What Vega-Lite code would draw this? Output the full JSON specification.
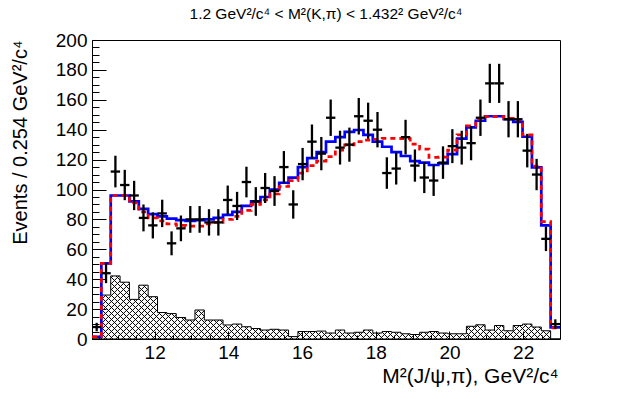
{
  "$schema": "https://vega.github.io/schema/vega-lite/v6.json",
  "width": 468,
  "height": 299,
  "autosize": {"type": "none"},
  "padding": {"left": 92, "top": 40, "right": 63, "bottom": 60},
  "background": "white",
  "config": {
    "view": {"stroke": "black", "strokeWidth": 1},
    "font": "Liberation Sans",
    "axis": {"grid": false, "domain": false, "tickColor": "black", "labelColor": "black", "titleColor": "black", "labelFont": "Liberation Sans", "titleFont": "Liberation Sans", "titleFontWeight": "normal"}
  },
  "title": {"text": "1.2 GeV²/c⁴ < M²(K,π) < 1.432² GeV²/c⁴", "font": "Liberation Sans", "fontSize": 15.5, "fontWeight": "normal", "anchor": "middle", "frame": "group", "offset": 9, "color": "black"},
  "datasets": {
    "steps": [
      {"x": 10.300, "fit": 1.5, "alt": 1.5, "bg": 0},
      {"x": 10.554, "fit": 50.6, "alt": 50.6, "bg": 29.4},
      {"x": 10.808, "fit": 96, "alt": 96, "bg": 42.2},
      {"x": 11.062, "fit": 96, "alt": 96, "bg": 38},
      {"x": 11.316, "fit": 92, "alt": 91, "bg": 26.5},
      {"x": 11.570, "fit": 87, "alt": 85, "bg": 36},
      {"x": 11.824, "fit": 83.5, "alt": 81, "bg": 28.3},
      {"x": 12.078, "fit": 82, "alt": 79, "bg": 17.7},
      {"x": 12.332, "fit": 80.5, "alt": 77, "bg": 17},
      {"x": 12.586, "fit": 79.5, "alt": 76, "bg": 14.4},
      {"x": 12.840, "fit": 79, "alt": 75.5, "bg": 12.7},
      {"x": 13.094, "fit": 79.5, "alt": 75.5, "bg": 19.4},
      {"x": 13.348, "fit": 80, "alt": 77, "bg": 12.7},
      {"x": 13.602, "fit": 81, "alt": 78, "bg": 12.7},
      {"x": 13.856, "fit": 83, "alt": 80, "bg": 9.4},
      {"x": 14.110, "fit": 85, "alt": 82, "bg": 10},
      {"x": 14.364, "fit": 89, "alt": 86, "bg": 8.2},
      {"x": 14.618, "fit": 92, "alt": 90, "bg": 7},
      {"x": 14.872, "fit": 95, "alt": 93, "bg": 6},
      {"x": 15.126, "fit": 100, "alt": 97, "bg": 6.5},
      {"x": 15.380, "fit": 104.5, "alt": 102, "bg": 6},
      {"x": 15.634, "fit": 108, "alt": 106, "bg": 1.6},
      {"x": 15.888, "fit": 115, "alt": 111, "bg": 5},
      {"x": 16.142, "fit": 121, "alt": 116, "bg": 5},
      {"x": 16.396, "fit": 125, "alt": 119, "bg": 5.3},
      {"x": 16.650, "fit": 132, "alt": 122, "bg": 4},
      {"x": 16.904, "fit": 135, "alt": 126.4, "bg": 6},
      {"x": 17.158, "fit": 138.5, "alt": 129.8, "bg": 4},
      {"x": 17.412, "fit": 139.8, "alt": 132, "bg": 4.5},
      {"x": 17.666, "fit": 136.5, "alt": 133, "bg": 6},
      {"x": 17.920, "fit": 132, "alt": 133.6, "bg": 4},
      {"x": 18.174, "fit": 128.6, "alt": 134.2, "bg": 5},
      {"x": 18.428, "fit": 125, "alt": 134.2, "bg": 4.5},
      {"x": 18.682, "fit": 122.4, "alt": 134, "bg": 3.5},
      {"x": 18.936, "fit": 119, "alt": 130.4, "bg": 3},
      {"x": 19.190, "fit": 118, "alt": 127, "bg": 4.5},
      {"x": 19.444, "fit": 116.4, "alt": 121.5, "bg": 5},
      {"x": 19.698, "fit": 117.5, "alt": 121.6, "bg": 4},
      {"x": 19.952, "fit": 123.7, "alt": 126.4, "bg": 3.5},
      {"x": 20.206, "fit": 134, "alt": 136.5, "bg": 3.5},
      {"x": 20.460, "fit": 141.6, "alt": 142.5, "bg": 8.5},
      {"x": 20.714, "fit": 146, "alt": 147, "bg": 9.5},
      {"x": 20.968, "fit": 149, "alt": 148.7, "bg": 6},
      {"x": 21.222, "fit": 149, "alt": 148.7, "bg": 9},
      {"x": 21.476, "fit": 147, "alt": 147.6, "bg": 5.5},
      {"x": 21.730, "fit": 145.3, "alt": 146.5, "bg": 9},
      {"x": 21.984, "fit": 135.3, "alt": 136.5, "bg": 10},
      {"x": 22.238, "fit": 114.8, "alt": 115.7, "bg": 8},
      {"x": 22.492, "fit": 76, "alt": 78.5, "bg": 5.5},
      {"x": 22.746, "fit": 7.8, "alt": 7.5, "bg": 0},
      {"x": 23.000, "fit": 7.8, "alt": 7.5, "bg": 0}
    ],
    "pts": [
      {"m": 10.427, "lo": 10.300, "hi": 10.554, "n": 8, "e": 2.83},
      {"m": 10.681, "lo": 10.554, "hi": 10.808, "n": 44, "e": 6.63},
      {"m": 10.935, "lo": 10.808, "hi": 11.062, "n": 112, "e": 10.58},
      {"m": 11.189, "lo": 11.062, "hi": 11.316, "n": 103, "e": 10.15},
      {"m": 11.443, "lo": 11.316, "hi": 11.570, "n": 96, "e": 9.80},
      {"m": 11.697, "lo": 11.570, "hi": 11.824, "n": 81, "e": 9.00},
      {"m": 11.951, "lo": 11.824, "hi": 12.078, "n": 76, "e": 8.72},
      {"m": 12.205, "lo": 12.078, "hi": 12.332, "n": 84, "e": 9.17},
      {"m": 12.459, "lo": 12.332, "hi": 12.586, "n": 64, "e": 8.00},
      {"m": 12.713, "lo": 12.586, "hi": 12.840, "n": 74, "e": 8.60},
      {"m": 12.967, "lo": 12.840, "hi": 13.094, "n": 80, "e": 8.94},
      {"m": 13.221, "lo": 13.094, "hi": 13.348, "n": 80, "e": 8.94},
      {"m": 13.475, "lo": 13.348, "hi": 13.602, "n": 78, "e": 8.83},
      {"m": 13.729, "lo": 13.602, "hi": 13.856, "n": 78, "e": 8.83},
      {"m": 13.983, "lo": 13.856, "hi": 14.110, "n": 93, "e": 9.64},
      {"m": 14.237, "lo": 14.110, "hi": 14.364, "n": 89, "e": 9.43},
      {"m": 14.491, "lo": 14.364, "hi": 14.618, "n": 105, "e": 10.25},
      {"m": 14.745, "lo": 14.618, "hi": 14.872, "n": 92, "e": 9.59},
      {"m": 14.999, "lo": 14.872, "hi": 15.126, "n": 101, "e": 10.05},
      {"m": 15.253, "lo": 15.126, "hi": 15.380, "n": 99, "e": 9.95},
      {"m": 15.507, "lo": 15.380, "hi": 15.634, "n": 115, "e": 10.72},
      {"m": 15.761, "lo": 15.634, "hi": 15.888, "n": 90, "e": 9.49},
      {"m": 16.015, "lo": 15.888, "hi": 16.142, "n": 117, "e": 10.82},
      {"m": 16.269, "lo": 16.142, "hi": 16.396, "n": 132, "e": 11.49},
      {"m": 16.523, "lo": 16.396, "hi": 16.650, "n": 124, "e": 11.14},
      {"m": 16.777, "lo": 16.650, "hi": 16.904, "n": 148, "e": 12.17},
      {"m": 17.031, "lo": 16.904, "hi": 17.158, "n": 128, "e": 11.31},
      {"m": 17.285, "lo": 17.158, "hi": 17.412, "n": 130, "e": 11.40},
      {"m": 17.539, "lo": 17.412, "hi": 17.666, "n": 149, "e": 12.21},
      {"m": 17.793, "lo": 17.666, "hi": 17.920, "n": 146, "e": 12.08},
      {"m": 18.047, "lo": 17.920, "hi": 18.174, "n": 140, "e": 11.83},
      {"m": 18.301, "lo": 18.174, "hi": 18.428, "n": 111, "e": 10.54},
      {"m": 18.555, "lo": 18.428, "hi": 18.682, "n": 114, "e": 10.68},
      {"m": 18.809, "lo": 18.682, "hi": 18.936, "n": 135, "e": 11.62},
      {"m": 19.063, "lo": 18.936, "hi": 19.190, "n": 116, "e": 10.77},
      {"m": 19.317, "lo": 19.190, "hi": 19.444, "n": 108, "e": 10.39},
      {"m": 19.571, "lo": 19.444, "hi": 19.698, "n": 106, "e": 10.30},
      {"m": 19.825, "lo": 19.698, "hi": 19.952, "n": 118, "e": 10.86},
      {"m": 20.079, "lo": 19.952, "hi": 20.206, "n": 129, "e": 11.36},
      {"m": 20.333, "lo": 20.206, "hi": 20.460, "n": 128, "e": 11.31},
      {"m": 20.587, "lo": 20.460, "hi": 20.714, "n": 131, "e": 11.45},
      {"m": 20.841, "lo": 20.714, "hi": 20.968, "n": 148, "e": 12.17},
      {"m": 21.095, "lo": 20.968, "hi": 21.222, "n": 171, "e": 13.08},
      {"m": 21.349, "lo": 21.222, "hi": 21.476, "n": 171, "e": 13.08},
      {"m": 21.603, "lo": 21.476, "hi": 21.730, "n": 147, "e": 12.12},
      {"m": 21.857, "lo": 21.730, "hi": 21.984, "n": 147, "e": 12.12},
      {"m": 22.111, "lo": 21.984, "hi": 22.238, "n": 126, "e": 11.22},
      {"m": 22.365, "lo": 22.238, "hi": 22.492, "n": 110, "e": 10.49},
      {"m": 22.619, "lo": 22.492, "hi": 22.746, "n": 67, "e": 8.19},
      {"m": 22.873, "lo": 22.746, "hi": 23.000, "n": 10, "e": 3.16}
    ]
  },
  "layer": [
    {
      "data": {"name": "steps"},
      "mark": {"type": "area", "interpolate": "step-after", "strokeWidth": 0, "fillOpacity": 1,
        "fill": {"gradient": "linear", "x1": 0, "y1": 0, "x2": 2.09859, "y2": 0.28295, "stops": [
{"offset":0.002,"color":"transparent"},{"offset":0.003,"color":"#000"},{"offset":0.004,"color":"transparent"},
{"offset":0.008,"color":"transparent"},{"offset":0.009,"color":"#000"},{"offset":0.010,"color":"transparent"},
{"offset":0.014,"color":"transparent"},{"offset":0.015,"color":"#000"},{"offset":0.016,"color":"transparent"},
{"offset":0.020,"color":"transparent"},{"offset":0.021,"color":"#000"},{"offset":0.022,"color":"transparent"},
{"offset":0.026,"color":"transparent"},{"offset":0.027,"color":"#000"},{"offset":0.028,"color":"transparent"},
{"offset":0.032,"color":"transparent"},{"offset":0.033,"color":"#000"},{"offset":0.034,"color":"transparent"},
{"offset":0.038,"color":"transparent"},{"offset":0.039,"color":"#000"},{"offset":0.040,"color":"transparent"},
{"offset":0.044,"color":"transparent"},{"offset":0.045,"color":"#000"},{"offset":0.046,"color":"transparent"},
{"offset":0.050,"color":"transparent"},{"offset":0.051,"color":"#000"},{"offset":0.052,"color":"transparent"},
{"offset":0.056,"color":"transparent"},{"offset":0.057,"color":"#000"},{"offset":0.058,"color":"transparent"},
{"offset":0.062,"color":"transparent"},{"offset":0.063,"color":"#000"},{"offset":0.064,"color":"transparent"},
{"offset":0.068,"color":"transparent"},{"offset":0.069,"color":"#000"},{"offset":0.070,"color":"transparent"},
{"offset":0.074,"color":"transparent"},{"offset":0.075,"color":"#000"},{"offset":0.076,"color":"transparent"},
{"offset":0.080,"color":"transparent"},{"offset":0.081,"color":"#000"},{"offset":0.082,"color":"transparent"},
{"offset":0.086,"color":"transparent"},{"offset":0.087,"color":"#000"},{"offset":0.088,"color":"transparent"},
{"offset":0.092,"color":"transparent"},{"offset":0.093,"color":"#000"},{"offset":0.094,"color":"transparent"},
{"offset":0.098,"color":"transparent"},{"offset":0.099,"color":"#000"},{"offset":0.100,"color":"transparent"},
{"offset":0.104,"color":"transparent"},{"offset":0.105,"color":"#000"},{"offset":0.106,"color":"transparent"},
{"offset":0.110,"color":"transparent"},{"offset":0.111,"color":"#000"},{"offset":0.112,"color":"transparent"},
{"offset":0.116,"color":"transparent"},{"offset":0.117,"color":"#000"},{"offset":0.118,"color":"transparent"},
{"offset":0.122,"color":"transparent"},{"offset":0.123,"color":"#000"},{"offset":0.124,"color":"transparent"},
{"offset":0.128,"color":"transparent"},{"offset":0.129,"color":"#000"},{"offset":0.130,"color":"transparent"},
{"offset":0.134,"color":"transparent"},{"offset":0.135,"color":"#000"},{"offset":0.136,"color":"transparent"},
{"offset":0.140,"color":"transparent"},{"offset":0.141,"color":"#000"},{"offset":0.142,"color":"transparent"},
{"offset":0.146,"color":"transparent"},{"offset":0.147,"color":"#000"},{"offset":0.148,"color":"transparent"},
{"offset":0.152,"color":"transparent"},{"offset":0.153,"color":"#000"},{"offset":0.154,"color":"transparent"},
{"offset":0.158,"color":"transparent"},{"offset":0.159,"color":"#000"},{"offset":0.160,"color":"transparent"},
{"offset":0.164,"color":"transparent"},{"offset":0.165,"color":"#000"},{"offset":0.166,"color":"transparent"},
{"offset":0.170,"color":"transparent"},{"offset":0.171,"color":"#000"},{"offset":0.172,"color":"transparent"},
{"offset":0.176,"color":"transparent"},{"offset":0.177,"color":"#000"},{"offset":0.178,"color":"transparent"},
{"offset":0.182,"color":"transparent"},{"offset":0.183,"color":"#000"},{"offset":0.184,"color":"transparent"},
{"offset":0.188,"color":"transparent"},{"offset":0.189,"color":"#000"},{"offset":0.190,"color":"transparent"},
{"offset":0.194,"color":"transparent"},{"offset":0.195,"color":"#000"},{"offset":0.196,"color":"transparent"},
{"offset":0.200,"color":"transparent"},{"offset":0.201,"color":"#000"},{"offset":0.202,"color":"transparent"},
{"offset":0.206,"color":"transparent"},{"offset":0.207,"color":"#000"},{"offset":0.208,"color":"transparent"},
{"offset":0.212,"color":"transparent"},{"offset":0.213,"color":"#000"},{"offset":0.214,"color":"transparent"},
{"offset":0.218,"color":"transparent"},{"offset":0.219,"color":"#000"},{"offset":0.220,"color":"transparent"},
{"offset":0.224,"color":"transparent"},{"offset":0.225,"color":"#000"},{"offset":0.226,"color":"transparent"},
{"offset":0.230,"color":"transparent"},{"offset":0.231,"color":"#000"},{"offset":0.232,"color":"transparent"},
{"offset":0.236,"color":"transparent"},{"offset":0.237,"color":"#000"},{"offset":0.238,"color":"transparent"},
{"offset":0.242,"color":"transparent"},{"offset":0.243,"color":"#000"},{"offset":0.244,"color":"transparent"},
{"offset":0.248,"color":"transparent"},{"offset":0.249,"color":"#000"},{"offset":0.250,"color":"transparent"},
{"offset":0.254,"color":"transparent"},{"offset":0.255,"color":"#000"},{"offset":0.256,"color":"transparent"},
{"offset":0.260,"color":"transparent"},{"offset":0.261,"color":"#000"},{"offset":0.262,"color":"transparent"},
{"offset":0.266,"color":"transparent"},{"offset":0.267,"color":"#000"},{"offset":0.268,"color":"transparent"},
{"offset":0.272,"color":"transparent"},{"offset":0.273,"color":"#000"},{"offset":0.274,"color":"transparent"},
{"offset":0.278,"color":"transparent"},{"offset":0.279,"color":"#000"},{"offset":0.280,"color":"transparent"},
{"offset":0.284,"color":"transparent"},{"offset":0.285,"color":"#000"},{"offset":0.286,"color":"transparent"},
{"offset":0.290,"color":"transparent"},{"offset":0.291,"color":"#000"},{"offset":0.292,"color":"transparent"},
{"offset":0.296,"color":"transparent"},{"offset":0.297,"color":"#000"},{"offset":0.298,"color":"transparent"},
{"offset":0.302,"color":"transparent"},{"offset":0.303,"color":"#000"},{"offset":0.304,"color":"transparent"},
{"offset":0.308,"color":"transparent"},{"offset":0.309,"color":"#000"},{"offset":0.310,"color":"transparent"},
{"offset":0.314,"color":"transparent"},{"offset":0.315,"color":"#000"},{"offset":0.316,"color":"transparent"},
{"offset":0.320,"color":"transparent"},{"offset":0.321,"color":"#000"},{"offset":0.322,"color":"transparent"},
{"offset":0.326,"color":"transparent"},{"offset":0.327,"color":"#000"},{"offset":0.328,"color":"transparent"},
{"offset":0.332,"color":"transparent"},{"offset":0.333,"color":"#000"},{"offset":0.334,"color":"transparent"},
{"offset":0.338,"color":"transparent"},{"offset":0.339,"color":"#000"},{"offset":0.340,"color":"transparent"},
{"offset":0.344,"color":"transparent"},{"offset":0.345,"color":"#000"},{"offset":0.346,"color":"transparent"},
{"offset":0.350,"color":"transparent"},{"offset":0.351,"color":"#000"},{"offset":0.352,"color":"transparent"},
{"offset":0.356,"color":"transparent"},{"offset":0.357,"color":"#000"},{"offset":0.358,"color":"transparent"},
{"offset":0.362,"color":"transparent"},{"offset":0.363,"color":"#000"},{"offset":0.364,"color":"transparent"},
{"offset":0.368,"color":"transparent"},{"offset":0.369,"color":"#000"},{"offset":0.370,"color":"transparent"},
{"offset":0.374,"color":"transparent"},{"offset":0.375,"color":"#000"},{"offset":0.376,"color":"transparent"},
{"offset":0.380,"color":"transparent"},{"offset":0.381,"color":"#000"},{"offset":0.382,"color":"transparent"},
{"offset":0.386,"color":"transparent"},{"offset":0.387,"color":"#000"},{"offset":0.388,"color":"transparent"},
{"offset":0.392,"color":"transparent"},{"offset":0.393,"color":"#000"},{"offset":0.394,"color":"transparent"},
{"offset":0.398,"color":"transparent"},{"offset":0.399,"color":"#000"},{"offset":0.400,"color":"transparent"},
{"offset":0.404,"color":"transparent"},{"offset":0.405,"color":"#000"},{"offset":0.406,"color":"transparent"},
{"offset":0.410,"color":"transparent"},{"offset":0.411,"color":"#000"},{"offset":0.412,"color":"transparent"},
{"offset":0.416,"color":"transparent"},{"offset":0.417,"color":"#000"},{"offset":0.418,"color":"transparent"},
{"offset":0.422,"color":"transparent"},{"offset":0.423,"color":"#000"},{"offset":0.424,"color":"transparent"},
{"offset":0.428,"color":"transparent"},{"offset":0.429,"color":"#000"},{"offset":0.430,"color":"transparent"},
{"offset":0.434,"color":"transparent"},{"offset":0.435,"color":"#000"},{"offset":0.436,"color":"transparent"},
{"offset":0.440,"color":"transparent"},{"offset":0.441,"color":"#000"},{"offset":0.442,"color":"transparent"},
{"offset":0.446,"color":"transparent"},{"offset":0.447,"color":"#000"},{"offset":0.448,"color":"transparent"},
{"offset":0.452,"color":"transparent"},{"offset":0.453,"color":"#000"},{"offset":0.454,"color":"transparent"},
{"offset":0.458,"color":"transparent"},{"offset":0.459,"color":"#000"},{"offset":0.460,"color":"transparent"},
{"offset":0.464,"color":"transparent"},{"offset":0.465,"color":"#000"},{"offset":0.466,"color":"transparent"},
{"offset":0.470,"color":"transparent"},{"offset":0.471,"color":"#000"},{"offset":0.472,"color":"transparent"},
{"offset":0.476,"color":"transparent"},{"offset":0.477,"color":"#000"},{"offset":0.478,"color":"transparent"},
{"offset":0.482,"color":"transparent"},{"offset":0.483,"color":"#000"},{"offset":0.484,"color":"transparent"},
{"offset":0.488,"color":"transparent"},{"offset":0.489,"color":"#000"},{"offset":0.490,"color":"transparent"},
{"offset":0.494,"color":"transparent"},{"offset":0.495,"color":"#000"},{"offset":0.496,"color":"transparent"},
{"offset":0.500,"color":"transparent"},{"offset":0.501,"color":"#000"},{"offset":0.502,"color":"transparent"},
{"offset":0.506,"color":"transparent"},{"offset":0.507,"color":"#000"},{"offset":0.508,"color":"transparent"},
{"offset":0.512,"color":"transparent"},{"offset":0.513,"color":"#000"},{"offset":0.514,"color":"transparent"},
{"offset":0.518,"color":"transparent"},{"offset":0.519,"color":"#000"},{"offset":0.520,"color":"transparent"},
{"offset":0.524,"color":"transparent"},{"offset":0.525,"color":"#000"},{"offset":0.526,"color":"transparent"},
{"offset":0.530,"color":"transparent"},{"offset":0.531,"color":"#000"},{"offset":0.532,"color":"transparent"}
        ]}},
      "encoding": {
        "x": {"field": "x", "type": "quantitative", "scale": {"domain": [10.3, 23.0], "nice": false, "zero": false},
          "axis": {"orient": "bottom", "values": [12, 14, 16, 18, 20, 22], "tickSize": -8, "labelPadding": 12, "labelFontSize": 19, "labelFlush": false,
            "title": "M²(J/ψ,π), GeV²/c⁴", "titleFontSize": 21, "titleAnchor": "end", "titleAlign": "right", "titleBaseline": "alphabetic", "titleX": 466, "titleY": 43}},
        "y": {"field": "bg", "type": "quantitative", "scale": {"domain": [0, 200], "nice": false},
          "axis": {"orient": "left", "values": [0, 20, 40, 60, 80, 100, 120, 140, 160, 180, 200], "tickSize": -14, "labelPadding": 19, "labelFontSize": 19, "labelFlush": false,
            "title": "Events / 0.254 GeV²/c⁴", "titleFontSize": 20, "titleAnchor": "end", "titleAlign": "right", "titleAngle": -90, "titleBaseline": "alphabetic", "titleX": -66, "titleY": 0}}
      }
    },
    {
      "data": {"name": "steps"},
      "mark": {"type": "area", "interpolate": "step-after", "stroke": "black", "strokeWidth": 1, "fillOpacity": 1,
        "fill": {"gradient": "linear", "x1": 0, "y1": 1, "x2": 2.09859, "y2": 0.71705, "stops": [
{"offset":0.002,"color":"transparent"},{"offset":0.003,"color":"#000"},{"offset":0.004,"color":"transparent"},
{"offset":0.008,"color":"transparent"},{"offset":0.009,"color":"#000"},{"offset":0.010,"color":"transparent"},
{"offset":0.014,"color":"transparent"},{"offset":0.015,"color":"#000"},{"offset":0.016,"color":"transparent"},
{"offset":0.020,"color":"transparent"},{"offset":0.021,"color":"#000"},{"offset":0.022,"color":"transparent"},
{"offset":0.026,"color":"transparent"},{"offset":0.027,"color":"#000"},{"offset":0.028,"color":"transparent"},
{"offset":0.032,"color":"transparent"},{"offset":0.033,"color":"#000"},{"offset":0.034,"color":"transparent"},
{"offset":0.038,"color":"transparent"},{"offset":0.039,"color":"#000"},{"offset":0.040,"color":"transparent"},
{"offset":0.044,"color":"transparent"},{"offset":0.045,"color":"#000"},{"offset":0.046,"color":"transparent"},
{"offset":0.050,"color":"transparent"},{"offset":0.051,"color":"#000"},{"offset":0.052,"color":"transparent"},
{"offset":0.056,"color":"transparent"},{"offset":0.057,"color":"#000"},{"offset":0.058,"color":"transparent"},
{"offset":0.062,"color":"transparent"},{"offset":0.063,"color":"#000"},{"offset":0.064,"color":"transparent"},
{"offset":0.068,"color":"transparent"},{"offset":0.069,"color":"#000"},{"offset":0.070,"color":"transparent"},
{"offset":0.074,"color":"transparent"},{"offset":0.075,"color":"#000"},{"offset":0.076,"color":"transparent"},
{"offset":0.080,"color":"transparent"},{"offset":0.081,"color":"#000"},{"offset":0.082,"color":"transparent"},
{"offset":0.086,"color":"transparent"},{"offset":0.087,"color":"#000"},{"offset":0.088,"color":"transparent"},
{"offset":0.092,"color":"transparent"},{"offset":0.093,"color":"#000"},{"offset":0.094,"color":"transparent"},
{"offset":0.098,"color":"transparent"},{"offset":0.099,"color":"#000"},{"offset":0.100,"color":"transparent"},
{"offset":0.104,"color":"transparent"},{"offset":0.105,"color":"#000"},{"offset":0.106,"color":"transparent"},
{"offset":0.110,"color":"transparent"},{"offset":0.111,"color":"#000"},{"offset":0.112,"color":"transparent"},
{"offset":0.116,"color":"transparent"},{"offset":0.117,"color":"#000"},{"offset":0.118,"color":"transparent"},
{"offset":0.122,"color":"transparent"},{"offset":0.123,"color":"#000"},{"offset":0.124,"color":"transparent"},
{"offset":0.128,"color":"transparent"},{"offset":0.129,"color":"#000"},{"offset":0.130,"color":"transparent"},
{"offset":0.134,"color":"transparent"},{"offset":0.135,"color":"#000"},{"offset":0.136,"color":"transparent"},
{"offset":0.140,"color":"transparent"},{"offset":0.141,"color":"#000"},{"offset":0.142,"color":"transparent"},
{"offset":0.146,"color":"transparent"},{"offset":0.147,"color":"#000"},{"offset":0.148,"color":"transparent"},
{"offset":0.152,"color":"transparent"},{"offset":0.153,"color":"#000"},{"offset":0.154,"color":"transparent"},
{"offset":0.158,"color":"transparent"},{"offset":0.159,"color":"#000"},{"offset":0.160,"color":"transparent"},
{"offset":0.164,"color":"transparent"},{"offset":0.165,"color":"#000"},{"offset":0.166,"color":"transparent"},
{"offset":0.170,"color":"transparent"},{"offset":0.171,"color":"#000"},{"offset":0.172,"color":"transparent"},
{"offset":0.176,"color":"transparent"},{"offset":0.177,"color":"#000"},{"offset":0.178,"color":"transparent"},
{"offset":0.182,"color":"transparent"},{"offset":0.183,"color":"#000"},{"offset":0.184,"color":"transparent"},
{"offset":0.188,"color":"transparent"},{"offset":0.189,"color":"#000"},{"offset":0.190,"color":"transparent"},
{"offset":0.194,"color":"transparent"},{"offset":0.195,"color":"#000"},{"offset":0.196,"color":"transparent"},
{"offset":0.200,"color":"transparent"},{"offset":0.201,"color":"#000"},{"offset":0.202,"color":"transparent"},
{"offset":0.206,"color":"transparent"},{"offset":0.207,"color":"#000"},{"offset":0.208,"color":"transparent"},
{"offset":0.212,"color":"transparent"},{"offset":0.213,"color":"#000"},{"offset":0.214,"color":"transparent"},
{"offset":0.218,"color":"transparent"},{"offset":0.219,"color":"#000"},{"offset":0.220,"color":"transparent"},
{"offset":0.224,"color":"transparent"},{"offset":0.225,"color":"#000"},{"offset":0.226,"color":"transparent"},
{"offset":0.230,"color":"transparent"},{"offset":0.231,"color":"#000"},{"offset":0.232,"color":"transparent"},
{"offset":0.236,"color":"transparent"},{"offset":0.237,"color":"#000"},{"offset":0.238,"color":"transparent"},
{"offset":0.242,"color":"transparent"},{"offset":0.243,"color":"#000"},{"offset":0.244,"color":"transparent"},
{"offset":0.248,"color":"transparent"},{"offset":0.249,"color":"#000"},{"offset":0.250,"color":"transparent"},
{"offset":0.254,"color":"transparent"},{"offset":0.255,"color":"#000"},{"offset":0.256,"color":"transparent"},
{"offset":0.260,"color":"transparent"},{"offset":0.261,"color":"#000"},{"offset":0.262,"color":"transparent"},
{"offset":0.266,"color":"transparent"},{"offset":0.267,"color":"#000"},{"offset":0.268,"color":"transparent"},
{"offset":0.272,"color":"transparent"},{"offset":0.273,"color":"#000"},{"offset":0.274,"color":"transparent"},
{"offset":0.278,"color":"transparent"},{"offset":0.279,"color":"#000"},{"offset":0.280,"color":"transparent"},
{"offset":0.284,"color":"transparent"},{"offset":0.285,"color":"#000"},{"offset":0.286,"color":"transparent"},
{"offset":0.290,"color":"transparent"},{"offset":0.291,"color":"#000"},{"offset":0.292,"color":"transparent"},
{"offset":0.296,"color":"transparent"},{"offset":0.297,"color":"#000"},{"offset":0.298,"color":"transparent"},
{"offset":0.302,"color":"transparent"},{"offset":0.303,"color":"#000"},{"offset":0.304,"color":"transparent"},
{"offset":0.308,"color":"transparent"},{"offset":0.309,"color":"#000"},{"offset":0.310,"color":"transparent"},
{"offset":0.314,"color":"transparent"},{"offset":0.315,"color":"#000"},{"offset":0.316,"color":"transparent"},
{"offset":0.320,"color":"transparent"},{"offset":0.321,"color":"#000"},{"offset":0.322,"color":"transparent"},
{"offset":0.326,"color":"transparent"},{"offset":0.327,"color":"#000"},{"offset":0.328,"color":"transparent"},
{"offset":0.332,"color":"transparent"},{"offset":0.333,"color":"#000"},{"offset":0.334,"color":"transparent"},
{"offset":0.338,"color":"transparent"},{"offset":0.339,"color":"#000"},{"offset":0.340,"color":"transparent"},
{"offset":0.344,"color":"transparent"},{"offset":0.345,"color":"#000"},{"offset":0.346,"color":"transparent"},
{"offset":0.350,"color":"transparent"},{"offset":0.351,"color":"#000"},{"offset":0.352,"color":"transparent"},
{"offset":0.356,"color":"transparent"},{"offset":0.357,"color":"#000"},{"offset":0.358,"color":"transparent"},
{"offset":0.362,"color":"transparent"},{"offset":0.363,"color":"#000"},{"offset":0.364,"color":"transparent"},
{"offset":0.368,"color":"transparent"},{"offset":0.369,"color":"#000"},{"offset":0.370,"color":"transparent"},
{"offset":0.374,"color":"transparent"},{"offset":0.375,"color":"#000"},{"offset":0.376,"color":"transparent"},
{"offset":0.380,"color":"transparent"},{"offset":0.381,"color":"#000"},{"offset":0.382,"color":"transparent"},
{"offset":0.386,"color":"transparent"},{"offset":0.387,"color":"#000"},{"offset":0.388,"color":"transparent"},
{"offset":0.392,"color":"transparent"},{"offset":0.393,"color":"#000"},{"offset":0.394,"color":"transparent"},
{"offset":0.398,"color":"transparent"},{"offset":0.399,"color":"#000"},{"offset":0.400,"color":"transparent"},
{"offset":0.404,"color":"transparent"},{"offset":0.405,"color":"#000"},{"offset":0.406,"color":"transparent"},
{"offset":0.410,"color":"transparent"},{"offset":0.411,"color":"#000"},{"offset":0.412,"color":"transparent"},
{"offset":0.416,"color":"transparent"},{"offset":0.417,"color":"#000"},{"offset":0.418,"color":"transparent"},
{"offset":0.422,"color":"transparent"},{"offset":0.423,"color":"#000"},{"offset":0.424,"color":"transparent"},
{"offset":0.428,"color":"transparent"},{"offset":0.429,"color":"#000"},{"offset":0.430,"color":"transparent"},
{"offset":0.434,"color":"transparent"},{"offset":0.435,"color":"#000"},{"offset":0.436,"color":"transparent"},
{"offset":0.440,"color":"transparent"},{"offset":0.441,"color":"#000"},{"offset":0.442,"color":"transparent"},
{"offset":0.446,"color":"transparent"},{"offset":0.447,"color":"#000"},{"offset":0.448,"color":"transparent"},
{"offset":0.452,"color":"transparent"},{"offset":0.453,"color":"#000"},{"offset":0.454,"color":"transparent"},
{"offset":0.458,"color":"transparent"},{"offset":0.459,"color":"#000"},{"offset":0.460,"color":"transparent"},
{"offset":0.464,"color":"transparent"},{"offset":0.465,"color":"#000"},{"offset":0.466,"color":"transparent"},
{"offset":0.470,"color":"transparent"},{"offset":0.471,"color":"#000"},{"offset":0.472,"color":"transparent"},
{"offset":0.476,"color":"transparent"},{"offset":0.477,"color":"#000"},{"offset":0.478,"color":"transparent"},
{"offset":0.482,"color":"transparent"},{"offset":0.483,"color":"#000"},{"offset":0.484,"color":"transparent"},
{"offset":0.488,"color":"transparent"},{"offset":0.489,"color":"#000"},{"offset":0.490,"color":"transparent"},
{"offset":0.494,"color":"transparent"},{"offset":0.495,"color":"#000"},{"offset":0.496,"color":"transparent"},
{"offset":0.500,"color":"transparent"},{"offset":0.501,"color":"#000"},{"offset":0.502,"color":"transparent"},
{"offset":0.506,"color":"transparent"},{"offset":0.507,"color":"#000"},{"offset":0.508,"color":"transparent"},
{"offset":0.512,"color":"transparent"},{"offset":0.513,"color":"#000"},{"offset":0.514,"color":"transparent"},
{"offset":0.518,"color":"transparent"},{"offset":0.519,"color":"#000"},{"offset":0.520,"color":"transparent"},
{"offset":0.524,"color":"transparent"},{"offset":0.525,"color":"#000"},{"offset":0.526,"color":"transparent"},
{"offset":0.530,"color":"transparent"},{"offset":0.531,"color":"#000"},{"offset":0.532,"color":"transparent"}
        ]}},
      "encoding": {
        "x": {"field": "x", "type": "quantitative",
          "axis": {"orient": "bottom", "values": [10.5, 11, 11.5, 12, 12.5, 13, 13.5, 14, 14.5, 15, 15.5, 16, 16.5, 17, 17.5, 18, 18.5, 19, 19.5, 20, 20.5, 21, 21.5, 22, 22.5], "tickSize": -4, "labels": false, "title": null}},
        "y": {"field": "bg", "type": "quantitative",
          "axis": {"orient": "left", "values": [5, 10, 15, 25, 30, 35, 45, 50, 55, 65, 70, 75, 85, 90, 95, 105, 110, 115, 125, 130, 135, 145, 150, 155, 165, 170, 175, 185, 190, 195], "tickSize": -7, "labels": false, "title": null}}
      }
    },
    {
      "data": {"name": "steps"},
      "mark": {"type": "line", "interpolate": "step-after", "color": "#0000ff", "strokeWidth": 2.7},
      "encoding": {
        "x": {"field": "x", "type": "quantitative", "axis": null},
        "y": {"field": "fit", "type": "quantitative", "axis": null}
      }
    },
    {
      "data": {"name": "steps"},
      "mark": {"type": "line", "interpolate": "step-after", "color": "#ff0000", "strokeWidth": 2.7, "strokeDash": [5, 4]},
      "encoding": {
        "x": {"field": "x", "type": "quantitative", "axis": null},
        "y": {"field": "alt", "type": "quantitative", "axis": null}
      }
    },
    {
      "data": {"name": "pts"},
      "mark": {"type": "errorbar", "ticks": false, "thickness": 2.3, "color": "black"},
      "encoding": {
        "x": {"field": "m", "type": "quantitative", "axis": null},
        "y": {"field": "n", "type": "quantitative", "axis": null},
        "yError": {"field": "e"}
      }
    },
    {
      "data": {"name": "pts"},
      "mark": {"type": "rule", "strokeWidth": 2.3, "color": "black"},
      "encoding": {
        "x": {"field": "lo", "type": "quantitative", "axis": null},
        "x2": {"field": "hi"},
        "y": {"field": "n", "type": "quantitative", "axis": null}
      }
    }
  ],
  "resolve": {"axis": {"x": "independent", "y": "independent"}}
}
